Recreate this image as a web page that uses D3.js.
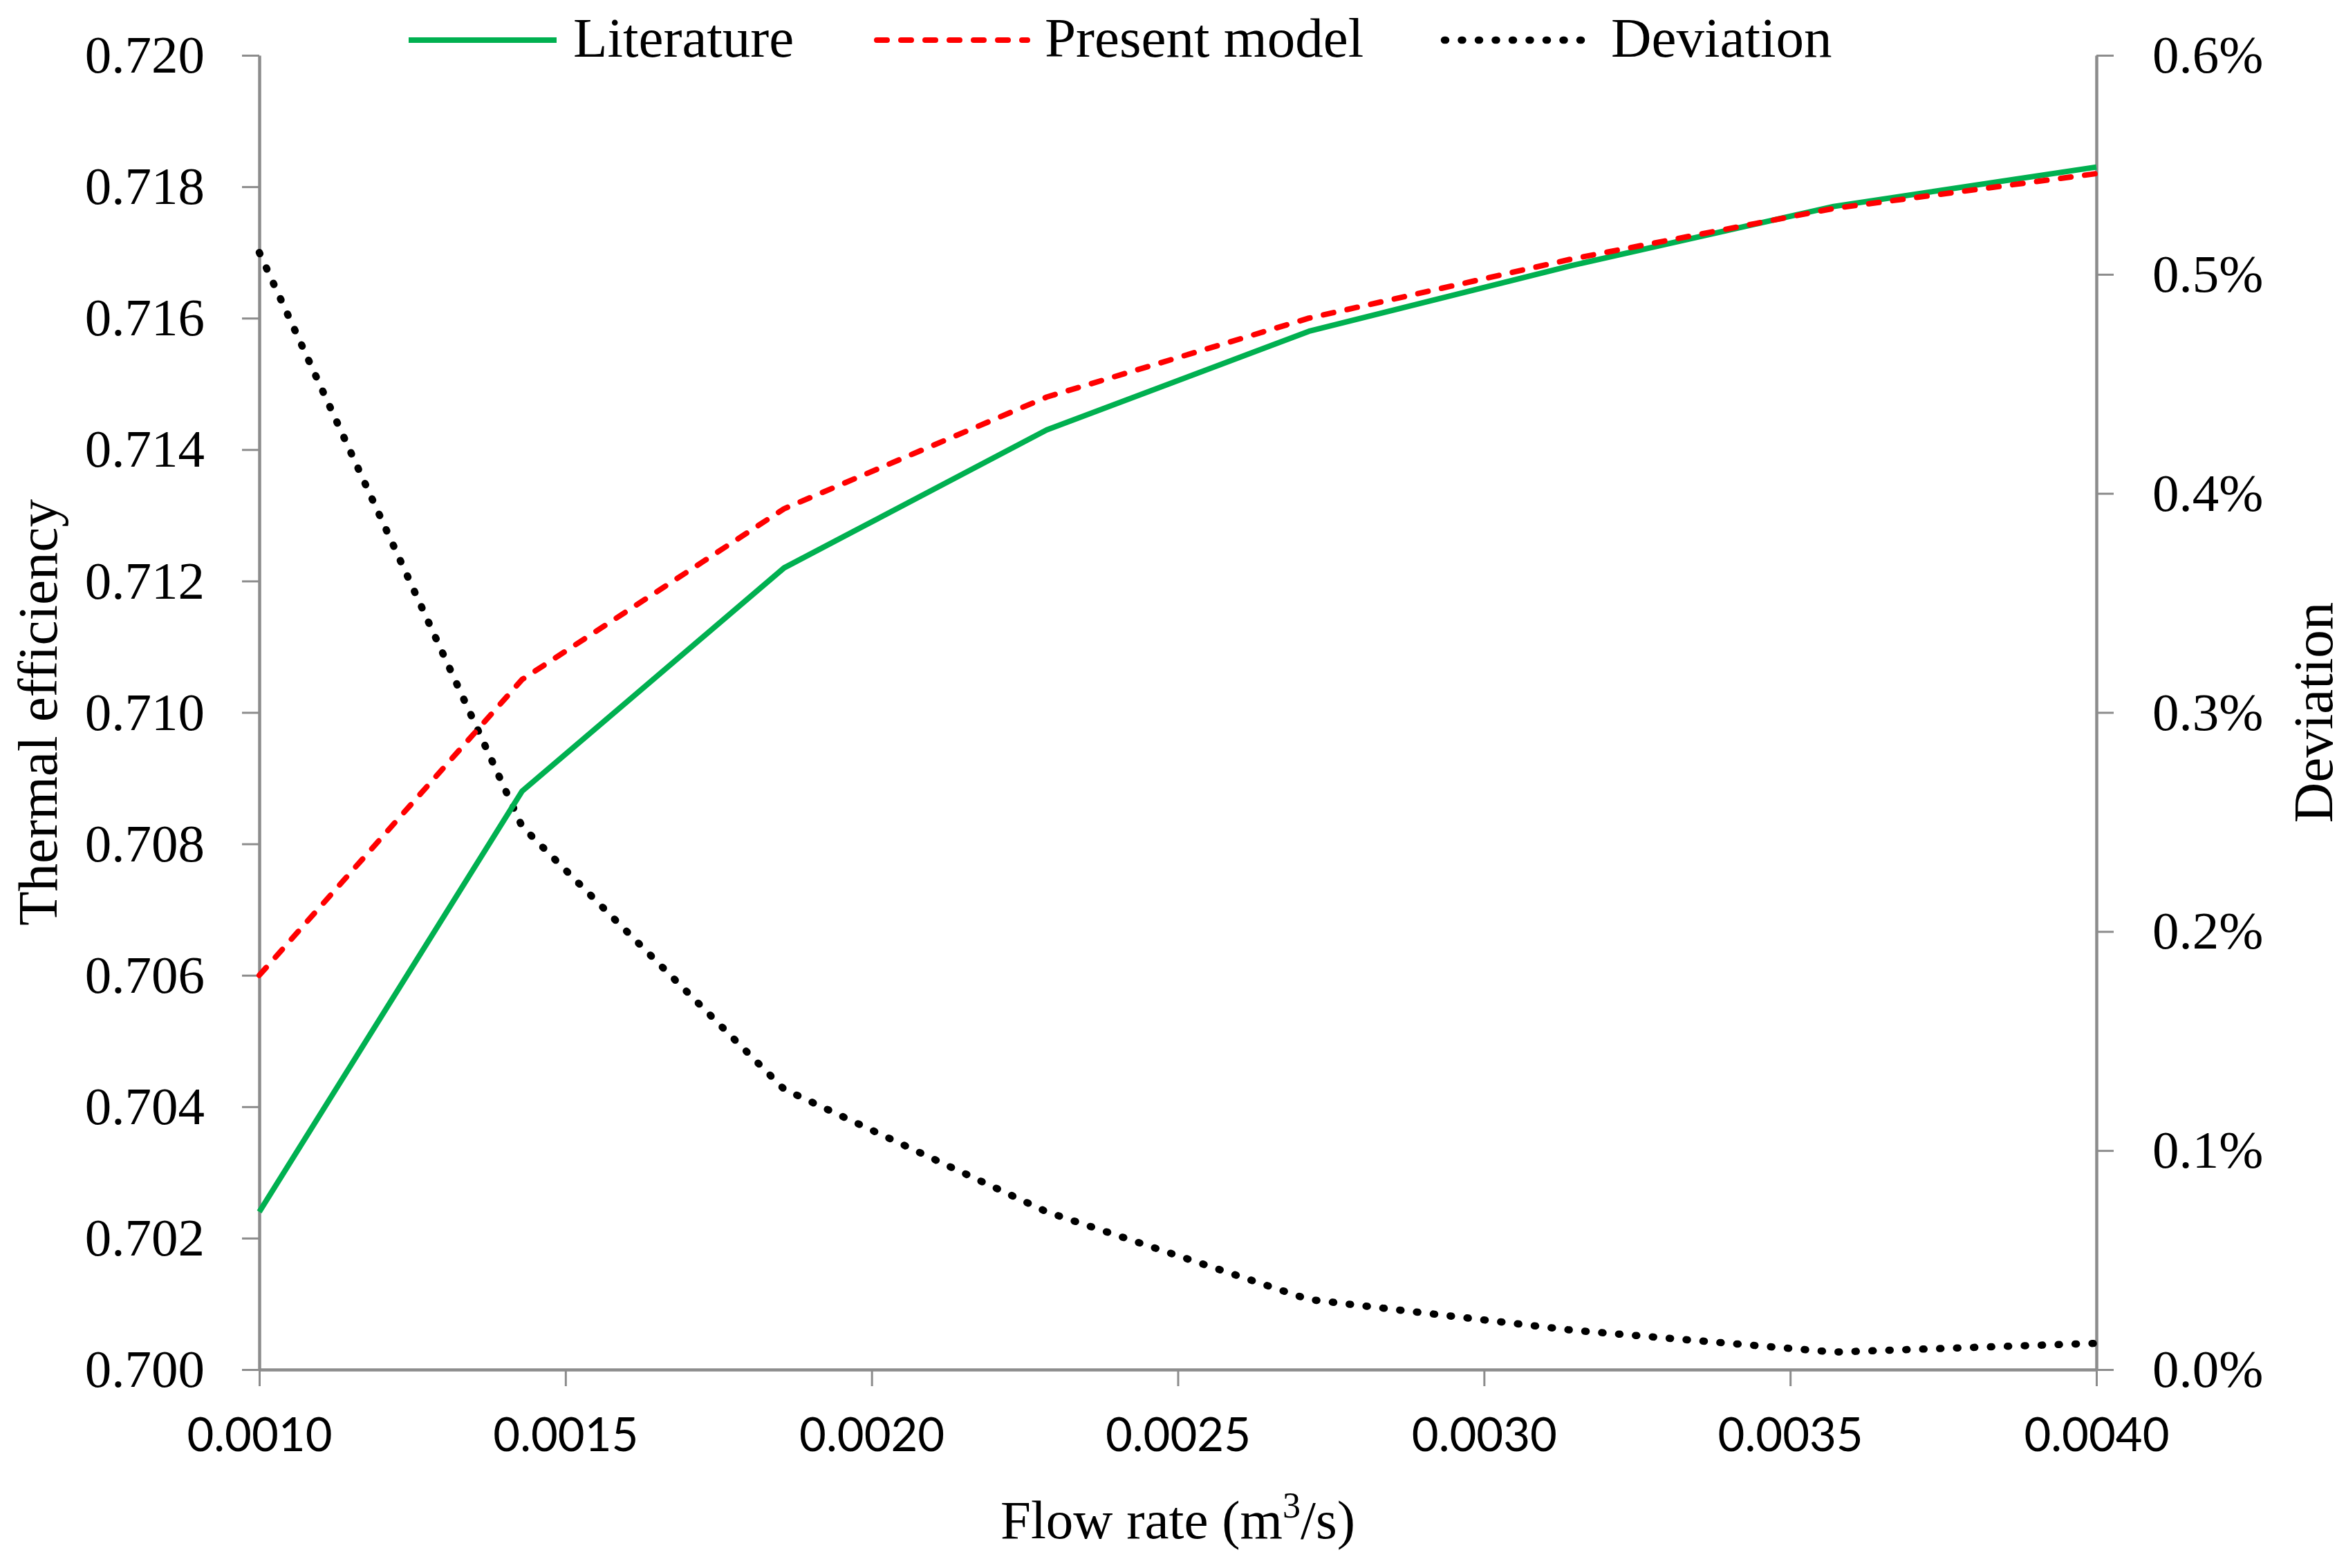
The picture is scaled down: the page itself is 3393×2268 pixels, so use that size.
<!DOCTYPE html>
<html>
<head>
<meta charset="utf-8">
<script src="https://cdn.jsdelivr.net/npm/d3@7/dist/d3.min.js"></script>
<style>
  html, body { margin: 0; padding: 0; background: #fff; }
  svg { display: block; }
</style>
</head>
<body>
<svg id="chart" width="3393" height="2268"></svg>
<script>
// ---- data ----
const flowRate = [0.001, 0.001429, 0.001857, 0.002286, 0.002714, 0.003143, 0.003571, 0.004];
const literature = [0.7024, 0.7088, 0.7122, 0.7143, 0.7158, 0.7168, 0.7177, 0.7183];
const presentModel = [0.7060, 0.7105, 0.7131, 0.7148, 0.7160, 0.7169, 0.71767, 0.7182];
const deviationPct = [0.510, 0.248, 0.128, 0.072, 0.032, 0.018, 0.008, 0.012];
const xTicks = [0.0010, 0.0015, 0.0020, 0.0025, 0.0030, 0.0035, 0.0040];
const yLeftTicks = [0.700, 0.702, 0.704, 0.706, 0.708, 0.710, 0.712, 0.714, 0.716, 0.718, 0.720];
const yRightTicks = [0, 0.1, 0.2, 0.3, 0.4, 0.5, 0.6];
const seriesNames = ["Literature", "Present model", "Deviation"];

// ---- layout ----
const W = 3393, H = 2268;
const m = { left: 375, right: 3032, top: 80, bottom: 1981 };
const serif = "'Liberation Serif', 'Times New Roman', serif";
const sans = "Lato, 'Open Sans', sans-serif";
const axisColor = "#8c8c8c";

const svg = d3.select("#chart");
svg.append("rect").attr("width", W).attr("height", H).attr("fill", "#fff");

const x = d3.scaleLinear().domain([0.001, 0.004]).range([m.left, m.right]);
const yL = d3.scaleLinear().domain([0.700, 0.720]).range([m.bottom, m.top]);
const yR = d3.scaleLinear().domain([0, 0.6]).range([m.bottom, m.top]);

function styleAxis(g) {
  g.select(".domain").attr("stroke", axisColor).attr("stroke-width", 4.5);
  g.selectAll(".tick line").attr("stroke", axisColor).attr("stroke-width", 3);
  g.selectAll(".tick text").attr("fill", "#000");
}

// bottom axis
const gx = svg.append("g").attr("transform", `translate(0,${m.bottom})`)
  .call(d3.axisBottom(x).tickValues(xTicks).tickFormat(d3.format(".4f")).tickSize(24).tickSizeOuter(0).tickPadding(46));
styleAxis(gx);
gx.selectAll(".tick text").attr("font-family", sans).attr("font-size", 67);

// left axis
const gl = svg.append("g").attr("transform", `translate(${m.left},0)`)
  .call(d3.axisLeft(yL).tickValues(yLeftTicks).tickFormat(d3.format(".3f")).tickSize(25).tickSizeOuter(0).tickPadding(54));
styleAxis(gl);
gl.selectAll(".tick text").attr("font-family", serif).attr("font-size", 77);

// right axis
const gr = svg.append("g").attr("transform", `translate(${m.right},0)`)
  .call(d3.axisRight(yR).tickValues(yRightTicks).tickFormat(d => d3.format(".1f")(d) + "%").tickSize(25).tickSizeOuter(0).tickPadding(56));
styleAxis(gr);
gr.selectAll(".tick text").attr("font-family", serif).attr("font-size", 77);

// ---- series ----
const styles = [
  { color: "#00B050", width: 8, dash: null, cap: "butt" },
  { color: "#FF0000", width: 8, dash: "15,20", cap: "round" },
  { color: "#000000", width: 10.5, dash: "2,22.5", cap: "round" }
];

const lineL = d3.line().x(d => x(d[0])).y(d => yL(d[1]));
const lineR = d3.line().x(d => x(d[0])).y(d => yR(d[1]));

const litData = flowRate.map((f, i) => [f, literature[i]]);
const modData = flowRate.map((f, i) => [f, presentModel[i]]);
const devData = flowRate.map((f, i) => [f, deviationPct[i]]);

function drawPath(d, gen, s) {
  const p = svg.append("path").datum(d).attr("d", gen)
    .attr("fill", "none").attr("stroke", s.color).attr("stroke-width", s.width)
    .attr("stroke-linecap", s.cap).attr("stroke-linejoin", "round");
  if (s.dash) p.attr("stroke-dasharray", s.dash);
}
drawPath(devData, lineR, styles[2]);
drawPath(litData, lineL, styles[0]);
drawPath(modData, lineL, styles[1]);

// ---- legend ----
const legendItems = [
  { x1: 591, x2: 805, tx: 829 },
  { x1: 1268, x2: 1486, tx: 1511 },
  { x1: 2089, x2: 2303, tx: 2330 }
];
legendItems.forEach((it, i) => {
  const s = styles[i];
  const l = svg.append("line").attr("x1", it.x1).attr("x2", it.x2).attr("y1", 58).attr("y2", 58)
    .attr("stroke", s.color).attr("stroke-width", s.width).attr("stroke-linecap", s.cap);
  if (s.dash) l.attr("stroke-dasharray", s.dash);
  svg.append("text").attr("x", it.tx).attr("y", 82).attr("font-family", serif).attr("font-size", 81)
    .attr("fill", "#000").text(seriesNames[i]);
});

// ---- axis titles ----
const xt = svg.append("text").attr("x", (m.left + m.right) / 2).attr("y", 2225)
  .attr("text-anchor", "middle").attr("font-family", serif).attr("font-size", 79).attr("fill", "#000");
xt.append("tspan").text("Flow rate (m");
xt.append("tspan").attr("font-size", 52).attr("dy", -30).text("3");
xt.append("tspan").attr("dy", 30).text("/s)");

svg.append("text").attr("transform", `translate(82,${(m.top + m.bottom) / 2}) rotate(-90)`)
  .attr("text-anchor", "middle").attr("font-family", serif).attr("font-size", 81).attr("fill", "#000")
  .text("Thermal efficiency");

svg.append("text").attr("transform", `translate(3373,${(m.top + m.bottom) / 2}) rotate(-90)`)
  .attr("text-anchor", "middle").attr("font-family", serif).attr("font-size", 81).attr("fill", "#000")
  .text("Deviation");
</script>
</body>
</html>
